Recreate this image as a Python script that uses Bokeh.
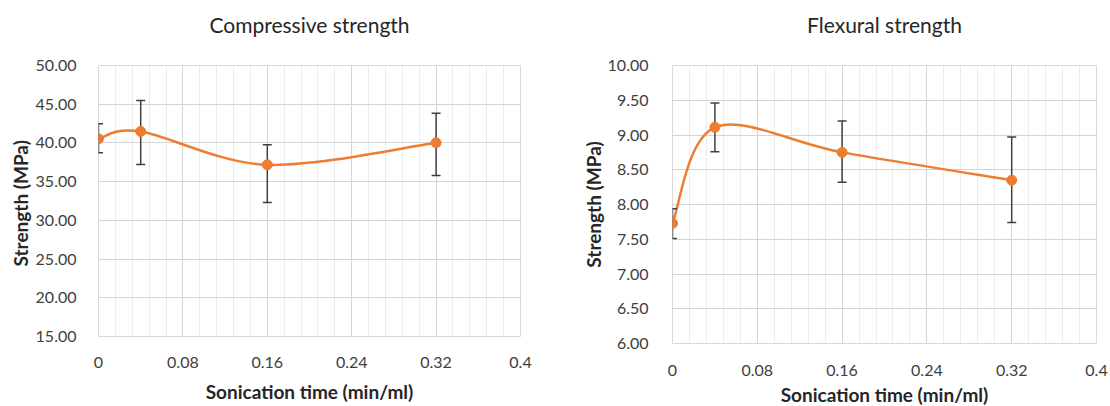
from bokeh.plotting import figure
from bokeh.models import (FixedTicker, NumeralTickFormatter, ColumnDataSource,
                          Range1d, Title)
from bokeh.embed import file_html
from bokeh.resources import INLINE

# ---- data ----
x_time = [0.0, 0.04, 0.16, 0.32]

comp_mean = [40.53, 41.48, 37.18, 40.02]
comp_upper = [42.47, 45.48, 39.76, 43.84]
comp_lower = [38.73, 37.21, 32.31, 35.79]

flex_mean = [7.73, 9.11, 8.75, 8.35]
flex_upper = [7.94, 9.46, 9.20, 8.97]
flex_lower = [7.51, 8.76, 8.32, 7.74]

x_ticks = [0.0, 0.08, 0.16, 0.24, 0.32, 0.4]
x_minor = [round(0.016 * k, 3) for k in range(26)]
comp_ticks = [15, 20, 25, 30, 35, 40, 45, 50]
flex_ticks = [6.0, 6.5, 7.0, 7.5, 8.0, 8.5, 9.0, 9.5, 10.0]

ORANGE = "#ED7D31"
FONT = "Lato"


def smooth_segments(xs, ys):
    n = len(xs)
    d = dict(x0=[], y0=[], x1=[], y1=[], cx0=[], cy0=[], cx1=[], cy1=[])
    for i in range(n - 1):
        a = max(i - 1, 0)
        b = min(i + 2, n - 1)
        x0, y0 = xs[i], ys[i]
        x1, y1 = xs[i + 1], ys[i + 1]
        d["x0"].append(x0); d["y0"].append(y0)
        d["x1"].append(x1); d["y1"].append(y1)
        d["cx0"].append(x0 + (x1 - xs[a]) / 6.0)
        d["cy0"].append(y0 + (y1 - ys[a]) / 6.0)
        d["cx1"].append(x1 - (xs[b] - x0) / 6.0)
        d["cy1"].append(y1 - (ys[b] - y0) / 6.0)
    return d


def make_chart(title, ylabel, ymean, yup, ylo, yrange, yticks,
               fw, fh, bl, br, bt, bb, xls, xas, yls, yas):
    p = figure(frame_width=fw, frame_height=fh, output_backend="svg",
               toolbar_location=None, title=None,
               x_range=Range1d(0, 0.4), y_range=Range1d(*yrange),
               min_border_left=bl, min_border_right=br,
               min_border_top=bt, min_border_bottom=bb)
    p.background_fill_color = "white"
    p.border_fill_color = "white"
    p.outline_line_color = "#d9d9d9"

    # invisible spacer between frame and title, then the title itself
    p.add_layout(Title(text=" ", text_font_size="1px", standoff=26), "above")
    p.add_layout(Title(text=title, text_font=FONT, text_font_size="21px",
                       text_font_style="normal", text_color="#262626",
                       align="center", vertical_align="bottom", standoff=0),
                 "above")

    p.xaxis.ticker = FixedTicker(ticks=x_ticks, minor_ticks=x_minor)
    p.yaxis.ticker = FixedTicker(ticks=yticks)
    p.xaxis.formatter = NumeralTickFormatter(format="0.[00]")
    p.yaxis.formatter = NumeralTickFormatter(format="0.00")

    for ax in (p.xaxis[0], p.yaxis[0]):
        ax.axis_line_color = None
        ax.major_tick_line_color = None
        ax.minor_tick_line_color = None
        ax.major_label_text_font = FONT
        ax.major_label_text_font_size = "16px"
        ax.major_label_text_color = "#404040"
        ax.axis_label_text_font = FONT
        ax.axis_label_text_font_size = "19px"
        ax.axis_label_text_font_style = "bold"
        ax.axis_label_text_color = "#262626"

    p.xaxis.axis_label = "Sonication time (min/ml)"
    p.yaxis.axis_label = ylabel
    p.xaxis.major_label_standoff = xls
    p.xaxis.axis_label_standoff = xas
    p.yaxis.major_label_standoff = yls
    p.yaxis.axis_label_standoff = yas

    p.xgrid.grid_line_color = "#d4d4d4"
    p.xgrid.minor_grid_line_color = "#ececec"
    p.ygrid.grid_line_color = "#d4d4d4"

    seg = ColumnDataSource(smooth_segments(x_time, ymean))
    p.bezier(x0="x0", y0="y0", x1="x1", y1="y1", cx0="cx0", cy0="cy0",
             cx1="cx1", cy1="cy1", source=seg, line_color=ORANGE,
             line_width=2.5)

    src = ColumnDataSource(dict(x=x_time, y=ymean, up=yup, lo=ylo))
    p.segment(x0="x", y0="lo", x1="x", y1="up", source=src,
              line_color="#404040", line_width=1.5)
    p.scatter(x="x", y="up", source=src, marker="dash", size=9,
              line_color="#404040", line_width=1.5)
    p.scatter(x="x", y="lo", source=src, marker="dash", size=9,
              line_color="#404040", line_width=1.5)

    p.scatter(x="x", y="y", source=src, marker="circle", size=10,
              fill_color=ORANGE, line_color=ORANGE)
    return p


left = make_chart("Compressive strength", "Strength  (MPa)",
                  comp_mean, comp_upper, comp_lower, (15, 50), comp_ticks,
                  422, 271, 98, 40, 65, 70, 14, 9, 16, 1)
right = make_chart("Flexural strength", "Strength (MPa)",
                   flex_mean, flex_upper, flex_lower, (6, 10), flex_ticks,
                   424, 278, 112, 14, 65, 63, 15, 4, 18, 0)

html = file_html([left, right], INLINE)
html = html.replace(
    "</head>",
    "<style>html,body{margin:0;padding:0;}body{display:flex;"
    "flex-direction:row;align-items:flex-start;}</style></head>", 1)
open("out.html", "w").write(html)
